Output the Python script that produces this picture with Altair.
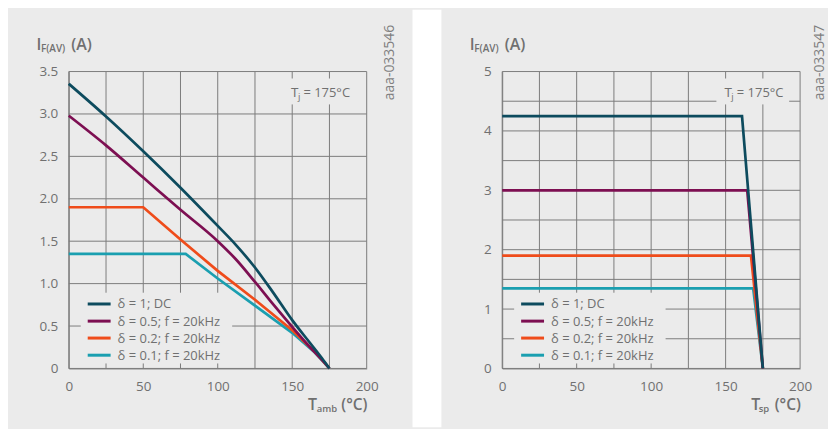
import altair as alt
import pandas as pd

# ---------------- data ----------------
series = ["δ = 1; DC", "δ = 0.5; f = 20kHz", "δ = 0.2; f = 20kHz", "δ = 0.1; f = 20kHz"]
colors = ["#0d4b5e", "#7d0f52", "#ef4c1b", "#1a9fb0"]

# left panel: I_F(AV) vs T_amb
l_dc_T = [0, 25, 50, 75, 100, 112, 125, 137, 150, 162, 170, 175]
l_dc_I = [3.355, 2.97, 2.56, 2.13, 1.68, 1.46, 1.19, 0.90, 0.57, 0.30, 0.12, 0.0]
l_05_T = [0, 25, 50, 75, 100, 112, 125, 137, 150, 162, 170, 175]
l_05_I = [2.98, 2.63, 2.25, 1.87, 1.50, 1.29, 1.02, 0.76, 0.49, 0.25, 0.10, 0.0]
l_02_T = [0, 50, 75, 100, 125, 150, 165, 175]
l_02_I = [1.9, 1.9, 1.52, 1.15, 0.81, 0.45, 0.20, 0.0]
l_01_T = [0, 78.5, 100, 125, 150, 165, 175]
l_01_I = [1.35, 1.35, 1.06, 0.74, 0.42, 0.19, 0.0]

# right panel: I_F(AV) vs T_sp
r_dc_T = [0, 161, 175]
r_dc_I = [4.25, 4.25, 0.0]
r_05_T = [0, 164.5, 175]
r_05_I = [3.0, 3.0, 0.0]
r_02_T = [0, 167, 175]
r_02_I = [1.9, 1.9, 0.0]
r_01_T = [0, 168.5, 175]
r_01_I = [1.35, 1.35, 0.0]

x_ticks = [0, 25, 50, 75, 100, 125, 150, 175, 200]
y_ticks_left = [0, 0.5, 1.0, 1.5, 2.0, 2.5, 3.0, 3.5]
y_ticks_right = [0, 0.5, 1, 1.5, 2, 2.5, 3, 3.5, 4, 4.5, 5]


def build_df(groups):
    rows = []
    # draw order: thin currents first, DC last (on top)
    for name, Ts, Is, smooth in reversed(groups):
        for t, i in zip(Ts, Is):
            rows.append({"T": t, "I": i, "series": name, "smooth": smooth})
    return pd.DataFrame(rows)


left_df = build_df([
    (series[0], l_dc_T, l_dc_I, True),
    (series[1], l_05_T, l_05_I, True),
    (series[2], l_02_T, l_02_I, False),
    (series[3], l_01_T, l_01_I, False),
])
right_df = build_df([
    (series[0], r_dc_T, r_dc_I, False),
    (series[1], r_05_T, r_05_I, False),
    (series[2], r_02_T, r_02_I, False),
    (series[3], r_01_T, r_01_I, False),
])

# ---------------- style ----------------
FONT = "Open Sans"
BG = "#ebebeb"
TXT = "#707070"
GRID = "#7c7c7c"
W, H = 299, 298
XMAX = 200
# boxes (in plot pixels) behind the legend and the Tj note, where the grid is interrupted
LEGEND_BOX = (12, 164, 222, 293)
NOTE_BOX = (215, 288, 7, 33)

one = pd.DataFrame({"k": [0]})


def grid_points(yvals, ymax):
    boxes = []
    for x0, x1, y0, y1 in (LEGEND_BOX, NOTE_BOX):
        boxes.append((x0 / W * XMAX, x1 / W * XMAX,
                      ymax * (H - y1) / H, ymax * (H - y0) / H))
    segs = []
    for v in x_ticks:
        cuts = sorted((b[2], b[3]) for b in boxes if b[0] < v < b[1])
        start = 0.0
        for lo, hi in cuts:
            segs.append((v, start, v, lo))
            start = hi
        segs.append((v, start, v, ymax))
    for v in yvals:
        cuts = sorted((b[0], b[1]) for b in boxes if b[2] < v < b[3])
        start = 0.0
        for lo, hi in cuts:
            segs.append((start, v, lo, v))
            start = hi
        segs.append((start, v, XMAX, v))
    rows = []
    for k, (xa, ya, xb, yb) in enumerate(segs):
        rows.append({"seg": k, "pt": 0, "gx": xa, "gy": ya})
        rows.append({"seg": k, "pt": 1, "gx": xb, "gy": yb})
    return pd.DataFrame(rows)


def txt(s, x, y, size, weight=400, align="left", baseline="alphabetic", angle=0, color=TXT):
    kw = dict(text=s, align=align, baseline=baseline, fontSize=size,
              fontWeight=weight, font=FONT, color=color)
    if angle:
        kw["angle"] = angle
    return alt.Chart(one).mark_text(**kw).encode(x=alt.value(x), y=alt.value(y))


def rect(x, x2, y, y2, color):
    return alt.Chart(one).mark_rect(fill=color).encode(
        x=alt.value(x), x2=alt.value(x2), y=alt.value(y), y2=alt.value(y2))


def key_line(y, color):
    return alt.Chart(one).mark_rule(color=color, strokeWidth=3).encode(
        x=alt.value(19), x2=alt.value(42), y=alt.value(y))


def panel(df, ymax, yvals, ylabel_expr, xsub, t_x, sub_x, tag, tag_x, gap, frame_x2):
    xs = alt.Scale(domain=[0, XMAX], nice=False)
    ys = alt.Scale(domain=[0, ymax], nice=False)
    xax = alt.Axis(values=x_ticks, title=None, labelFlush=False, grid=False,
                   labelExpr="datum.value % 50 == 0 ? datum.label : ''")
    yax = alt.Axis(values=yvals, title=None, grid=False, labelExpr=ylabel_expr)
    enc = dict(
        x=alt.X("T:Q", scale=xs, axis=xax),
        y=alt.Y("I:Q", scale=ys, axis=yax),
        color=alt.Color("series:N", scale=alt.Scale(domain=series, range=colors),
                        legend=None),
    )
    base = alt.Chart(df)
    lines_straight = base.transform_filter("!datum.smooth").mark_line(strokeWidth=2.7).encode(**enc)
    lines_smooth = base.transform_filter("datum.smooth").mark_line(
        strokeWidth=2.7, interpolate="monotone").encode(**enc)

    grid = alt.Chart(grid_points(yvals, ymax)).mark_line(
        color=GRID, strokeWidth=1).encode(
        x=alt.X("gx:Q", scale=xs, axis=xax),
        y=alt.Y("gy:Q", scale=ys, axis=yax),
        detail="seg:N", order="pt:Q")

    layers = [rect(-60, frame_x2, -62, 357, "transparent")]
    if gap:
        layers.append(rect(345, 374, -62, 357, "white"))
    layers += [
        grid,
        txt("T", 223, 26, 13.5),
        txt("j", 230, 29, 9.5),
        txt("= 175°C", 235.5, 26, 13),
        txt("I", -32.5, -22, 16, 600),
        txt("F(AV)", -28, -19.5, 10, 600),
        txt("(A)", 2.5, -22, 16, 600),
        txt("T", t_x, 340, 16, 600),
        txt(xsub, sub_x, 342, 9.5, 600),
        txt("(°C)", 273.5, 340, 15.5, 600),
        txt(tag, tag_x, -9, 14, 400, align="center", baseline="middle", angle=270,
            color="#7f7f7f"),
    ]
    # legend key
    row_y = [233.3, 250.5, 267.5, 284.7]
    for name, col, ry in zip(series, colors, row_y):
        layers.append(key_line(ry, col))
        layers.append(txt(name, 49, ry + 0.5, 13, baseline="middle"))
    layers += [lines_straight, lines_smooth]
    return alt.layer(*layers).properties(width=W, height=H)


left = panel(left_df, 3.5, y_ticks_left,
             "datum.value == 0 ? '0' : format(datum.value, '.1f')",
             "amb", 240, 249, "aaa-033546", 322, True, 345)
right = panel(right_df, 5, y_ticks_right,
              "datum.value % 1 == 0 ? format(datum.value, 'd') : ''",
              "sp", 250, 257.5, "aaa-033547", 319, False, 325)

chart = alt.hconcat(left, right, spacing=136, bounds="flush").resolve_scale(
    color="independent").properties(
    padding=0,
    background=BG,
).configure_axis(
    domainColor=GRID, domainWidth=1, ticks=False, grid=False,
    labelColor=TXT, labelFont=FONT, labelFontSize=13.5, labelPadding=11,
    labelOverlap=False,
).configure_view(stroke="transparent")

chart.save("out.html", embed_options={"renderer": "svg", "actions": False})
